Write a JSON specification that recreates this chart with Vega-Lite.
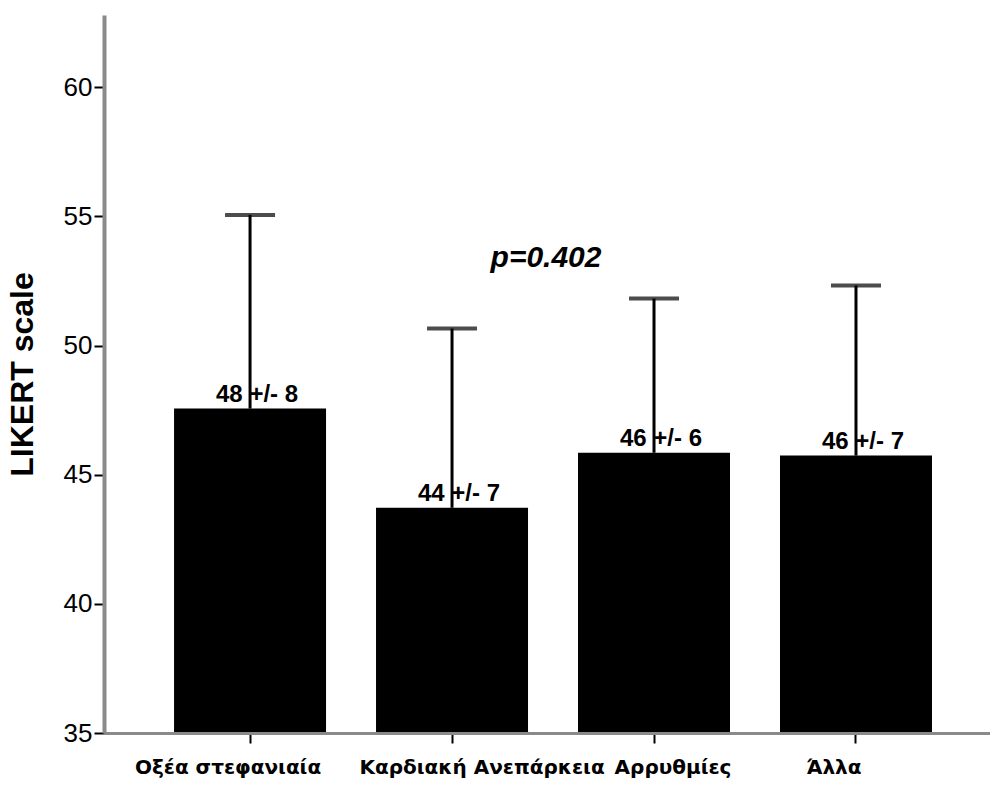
{
  "$schema": "https://vega.github.io/schema/vega-lite/v6.json",
  "autosize": "none",
  "width": 886,
  "height": 718,
  "padding": {"left": 104, "top": 15, "right": 0, "bottom": 52},
  "background": "white",
  "config": {"view": {"stroke": null}},
  "data": {
    "values": [
      {"cat": "Οξέα στεφανιαία", "mean": 47.56, "upper": 55.06, "label": "48 +/- 8"},
      {"cat": "Καρδιακή Ανεπάρκεια", "mean": 43.72, "upper": 50.66, "label": "44 +/- 7"},
      {"cat": "Αρρυθμίες", "mean": 45.85, "upper": 51.82, "label": "46 +/- 6"},
      {"cat": "Άλλα", "mean": 45.74, "upper": 52.33, "label": "46 +/- 7"}
    ]
  },
  "encoding": {
    "x": {
      "field": "cat",
      "type": "nominal",
      "sort": null,
      "scale": {"paddingInner": 0.2475, "paddingOuter": 0.317, "align": 0.547},
      "axis": {
        "title": null,
        "labelAngle": 0,
        "labelLimit": 0,
        "domainColor": "#8a8a8a",
        "domainWidth": 3,
        "tickColor": "black",
        "tickWidth": 2,
        "tickSize": 10,
        "labelFont": "DejaVu Sans",
        "labelFontWeight": "bold",
        "labelFontSize": 20,
        "labelColor": "black",
        "labelPadding": 14,
        "labelOffset": {"expr": "datum.value == 'Οξέα στεφανιαία' ? -22 : datum.value == 'Καρδιακή Ανεπάρκεια' ? 30 : datum.value == 'Αρρυθμίες' ? 19 : -22"},
        "zindex": 1
      }
    }
  },
  "layer": [
    {
      "mark": {"type": "bar", "color": "black"},
      "encoding": {
        "y": {
          "field": "mean",
          "type": "quantitative",
          "scale": {"domain": [35, 62.8], "zero": false, "nice": false},
          "axis": {
            "title": "LIKERT scale",
            "titleFont": "Liberation Sans",
            "titleFontSize": 32,
            "titleFontWeight": "bold",
            "titleColor": "black",
            "titlePadding": 24,
            "values": [35, 40, 45, 50, 55, 60],
            "grid": false,
            "domainColor": "#8a8a8a",
            "domainWidth": 4,
            "tickColor": "black",
            "tickWidth": 2,
            "tickSize": 10,
            "labelFont": "Liberation Sans",
            "labelFontSize": 26,
            "labelColor": "black",
            "labelPadding": 2,
            "zindex": 1
          }
        },
        "y2": {"datum": 35}
      }
    },
    {
      "mark": {"type": "rule", "color": "black", "strokeWidth": 3},
      "encoding": {
        "y": {"field": "mean", "type": "quantitative"},
        "y2": {"field": "upper"}
      }
    },
    {
      "mark": {"type": "tick", "color": "black", "thickness": 4, "size": 50, "orient": "horizontal"},
      "encoding": {
        "y": {"field": "upper", "type": "quantitative"}
      }
    },
    {
      "mark": {"type": "text", "font": "Liberation Sans", "fontWeight": "bold", "fontSize": 24, "baseline": "bottom", "dy": -2, "dx": 7, "color": "black"},
      "encoding": {
        "y": {"field": "mean", "type": "quantitative"},
        "text": {"field": "label"}
      }
    },
    {
      "data": {"values": [{"cat": "Καρδιακή Ανεπάρκεια", "y": 53.04, "label": "p=0.402"}]},
      "mark": {"type": "text", "font": "Liberation Sans", "fontWeight": "bold", "fontStyle": "italic", "fontSize": 30, "baseline": "alphabetic", "dx": 94, "color": "black"},
      "encoding": {
        "y": {"field": "y", "type": "quantitative"},
        "text": {"field": "label"}
      }
    }
  ]
}
